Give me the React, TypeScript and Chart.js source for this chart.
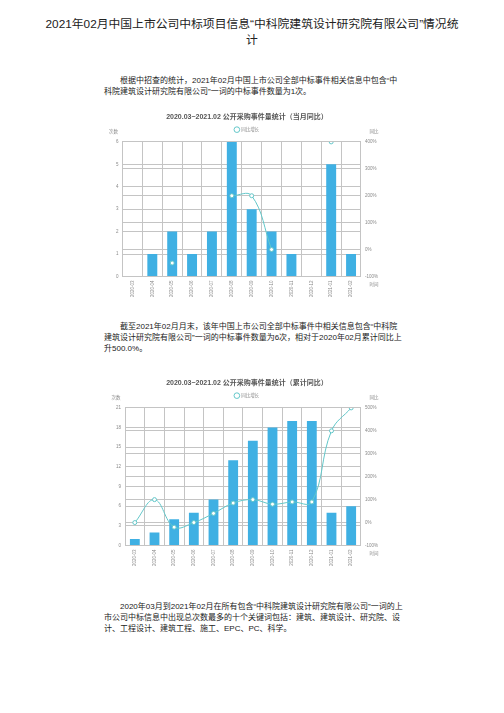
import { useEffect, useRef } from 'react';
import { Chart, registerables } from 'chart.js';

Chart.register(...registerables);

const months = [
  '2020-03', '2020-04', '2020-05', '2020-06', '2020-07', '2020-08',
  '2020-09', '2020-10', '2020-11', '2020-12', '2021-01', '2021-02',
];
// 当月
const monthCounts = [0, 1, 2, 1, 2, 6, 3, 2, 1, 0, 5, 1];
const monthYoY = [null, null, -50, null, null, 200, 200, 0, null, null, 400, null];
// 累计
const cumCounts = [1, 2, 4, 5, 7, 13, 16, 18, 19, 19, 5, 6];
const cumYoY = [0, 100, -20, 0, 40, 85, 100, 80, 90, 90, 400, 500];

const BAR = '#3fb0e3';
const LINE = '#63c7c9';
const GRID = '#c4c4c4';
const TICK = '#8a8a8a';
const FONT = '"Liberation Sans", "Noto Sans CJK SC", sans-serif';

const axisNames = {
  id: 'axisNames',
  afterDraw(chart: Chart) {
    const { ctx, chartArea } = chart;
    ctx.save();
    ctx.font = `4.5px ${FONT}`;
    ctx.fillStyle = TICK;
    ctx.textAlign = 'center';
    ctx.textBaseline = 'middle';
    ctx.fillText('次数', chartArea.left - 9, chartArea.top - 10);
    ctx.fillText('同比', chartArea.right + 13, chartArea.top - 10);
    ctx.fillText('时间', chartArea.right + 13, chartArea.bottom + 8);
    ctx.restore();
  },
};

interface ComboProps {
  title: string;
  counts: number[];
  rates: (number | null)[];
  leftMax: number;
  leftStep: number;
  rightMax: number;
}

function ComboChart({ title, counts, rates, leftMax, leftStep, rightMax }: ComboProps) {
  const canvasRef = useRef<HTMLCanvasElement>(null);
  const chartRef = useRef<Chart | null>(null);

  useEffect(() => {
    if (!canvasRef.current) return;
    chartRef.current?.destroy();

    chartRef.current = new Chart(canvasRef.current, {
      type: 'bar',
      data: {
        labels: months,
        datasets: [
          {
            type: 'line',
            label: '同比增长',
            data: rates,
            yAxisID: 'y1',
            borderColor: LINE,
            backgroundColor: '#ffffff',
            borderWidth: 1,
            tension: 0.4,
            pointRadius: 2,
            pointBorderWidth: 1,
            pointBackgroundColor: '#ffffff',
            pointBorderColor: LINE,
            spanGaps: false,
            order: 0,
          },
          {
            type: 'bar',
            label: '数量',
            data: counts,
            yAxisID: 'y',
            backgroundColor: BAR,
            barPercentage: 0.5,
            categoryPercentage: 1,
            order: 1,
          },
        ],
      },
      options: {
        responsive: true,
        maintainAspectRatio: false,
        animation: false,
        layout: { padding: { left: 6, right: 16, top: 0, bottom: 0 } },
        plugins: {
          title: {
            display: true,
            text: title,
            color: '#555',
            font: { size: 7, weight: 'bold', family: FONT },
            padding: { top: 2, bottom: 2 },
          },
          legend: {
            display: true,
            labels: {
              filter: (item) => item.text === '同比增长',
              usePointStyle: true,
              pointStyle: 'circle',
              boxWidth: 4,
              boxHeight: 4,
              color: TICK,
              font: { size: 4.5, family: FONT },
              padding: 4,
            },
          },
          tooltip: { enabled: false },
        },
        scales: {
          x: {
            offset: true,
            grid: { color: GRID, offset: true, drawTicks: false },
            border: { color: GRID },
            ticks: {
              color: TICK,
              font: { size: 4.5, family: FONT },
              minRotation: 90,
              maxRotation: 90,
              padding: 4,
              autoSkip: false,
            },
          },
          y: {
            position: 'left',
            min: 0,
            max: leftMax,
            grid: { color: GRID, drawTicks: false },
            border: { color: GRID },
            ticks: {
              stepSize: leftStep,
              color: TICK,
              font: { size: 4.5, family: FONT },
              padding: 4,
            },
          },
          y1: {
            position: 'right',
            min: -100,
            max: rightMax,
            grid: { color: GRID, drawTicks: false },
            border: { color: GRID },
            ticks: {
              stepSize: 100,
              color: TICK,
              font: { size: 4.5, family: FONT },
              padding: 4,
              callback: (v) => `${v}%`,
            },
          },
        },
      },
      plugins: [axisNames],
    });

    return () => {
      chartRef.current?.destroy();
      chartRef.current = null;
    };
  }, [title, counts, rates, leftMax, leftStep, rightMax]);

  return <canvas ref={canvasRef} />;
}

const page: React.CSSProperties = {
  position: 'absolute',
  left: 0,
  top: 0,
  width: 504,
  height: 713,
  background: '#fff',
  fontFamily: FONT,
  color: '#222',
};

const para: React.CSSProperties = {
  position: 'absolute',
  left: 104,
  fontSize: 8,
  lineHeight: '11px',
  whiteSpace: 'nowrap',
};

export default function App() {
  return (
    <div style={page}>
      <div
        style={{
          position: 'absolute',
          left: 0,
          width: 504,
          top: 16,
          textAlign: 'center',
          fontSize: 11.8,
          lineHeight: '16px',
        }}
      >
        <div>2021年02月中国上市公司中标项目信息“中科院建筑设计研究院有限公司”情况统</div>
        <div>计</div>
      </div>

      <div style={{ ...para, top: 75 }}>
        <div style={{ paddingLeft: 16 }}>根据中招查的统计，2021年02月中国上市公司全部中标事件相关信息中包含“中</div>
        <div>科院建筑设计研究院有限公司”一词的中标事件数量为1次。</div>
      </div>

      <div style={{ position: 'absolute', left: 106, top: 111, width: 292, height: 190 }}>
        <ComboChart
          title="2020.03~2021.02 公开采购事件量统计（当月同比）"
          counts={monthCounts}
          rates={monthYoY}
          leftMax={6}
          leftStep={1}
          rightMax={400}
        />
      </div>

      <div style={{ ...para, top: 321 }}>
        <div style={{ paddingLeft: 16 }}>截至2021年02月月末，该年中国上市公司全部中标事件中相关信息包含“中科院</div>
        <div>建筑设计研究院有限公司”一词的中标事件数量为6次，相对于2020年02月累计同比上</div>
        <div>升500.0%。</div>
      </div>

      <div style={{ position: 'absolute', left: 106, top: 377, width: 292, height: 193 }}>
        <ComboChart
          title="2020.03~2021.02 公开采购事件量统计（累计同比）"
          counts={cumCounts}
          rates={cumYoY}
          leftMax={21}
          leftStep={3}
          rightMax={500}
        />
      </div>

      <div style={{ ...para, top: 601 }}>
        <div style={{ paddingLeft: 16 }}>2020年03月到2021年02月在所有包含“中科院建筑设计研究院有限公司”一词的上</div>
        <div>市公司中标信息中出现总次数最多的十个关键词包括：建筑、建筑设计、研究院、设</div>
        <div>计、工程设计、建筑工程、施工、EPC、PC、科学。</div>
      </div>
    </div>
  );
}
